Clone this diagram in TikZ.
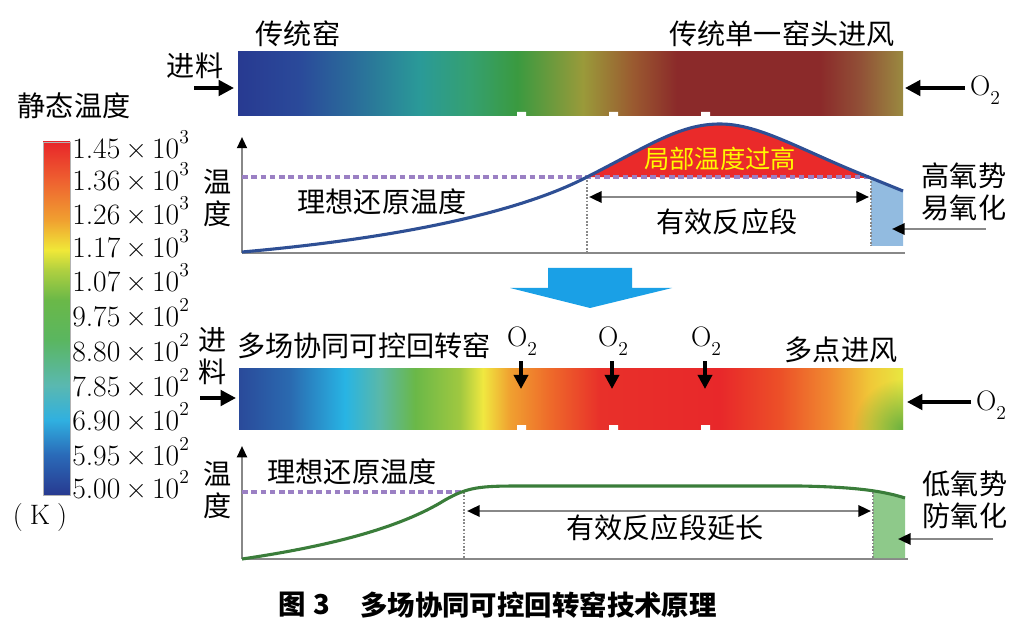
\documentclass[tikz,border=0pt]{standalone}
\usepackage{fontspec}
\usetikzlibrary{arrows.meta,fadings}
\newfontfamily\cjk{Noto Sans CJK SC}
\newcommand\fsz[1]{\fontsize{#1}{#1}\selectfont}
% top kiln colours
\definecolor{ta}{RGB}{40,58,145}
\definecolor{tb}{RGB}{42,74,154}
\definecolor{tc}{RGB}{42,106,154}
\definecolor{td}{RGB}{42,154,152}
\definecolor{te}{RGB}{53,160,112}
\definecolor{tf}{RGB}{58,154,64}
\definecolor{tg}{RGB}{154,154,58}
\definecolor{th}{RGB}{154,90,48}
\definecolor{ti}{RGB}{139,42,42}
\definecolor{tj}{RGB}{139,42,42}
\definecolor{tk}{RGB}{145,80,55}
\definecolor{tl}{RGB}{154,138,64}
% bottom kiln colours
\definecolor{ba}{RGB}{42,74,154}
\definecolor{bb}{RGB}{42,106,176}
\definecolor{bc}{RGB}{40,180,228}
\definecolor{bd}{RGB}{90,184,168}
\definecolor{be}{RGB}{106,184,72}
\definecolor{bf}{RGB}{160,200,64}
\definecolor{bg}{RGB}{240,232,64}
\definecolor{bh}{RGB}{240,160,48}
\definecolor{bi}{RGB}{238,106,42}
\definecolor{bj}{RGB}{232,48,42}
\definecolor{bk}{RGB}{232,40,42}
\definecolor{bl}{RGB}{236,80,40}
\definecolor{bm}{RGB}{240,138,48}
\definecolor{bn}{RGB}{240,200,56}
\definecolor{bo}{RGB}{232,232,64}
\definecolor{kgreen}{RGB}{106,176,64}
% colour bar
\definecolor{ca}{RGB}{40,58,144}
\definecolor{cb}{RGB}{42,106,184}
\definecolor{cc}{RGB}{48,176,224}
\definecolor{cd}{RGB}{90,184,176}
\definecolor{ce}{RGB}{90,182,96}
\definecolor{cf}{RGB}{106,184,72}
\definecolor{cg}{RGB}{176,208,64}
\definecolor{ch}{RGB}{240,232,56}
\definecolor{ci}{RGB}{240,160,48}
\definecolor{cj}{RGB}{238,96,48}
\definecolor{ck}{RGB}{232,38,42}
% others
\definecolor{idealpurple}{RGB}{155,128,196}
\definecolor{curveblue}{RGB}{46,79,148}
\definecolor{curvegreen}{RGB}{58,125,58}
\definecolor{hotred}{RGB}{234,42,42}
\definecolor{lblue}{RGB}{146,187,224}
\definecolor{lgreen}{RGB}{142,201,138}
\definecolor{bigblue}{RGB}{26,160,230}
\definecolor{axgray}{RGB}{136,136,136}
\definecolor{hotyellow}{RGB}{255,250,0}

\pgfdeclarehorizontalshading{topkiln}{100bp}{color(0bp)=(ta); color(25bp)=(ta); color(29.66bp)=(tb); color(33.42bp)=(tc); color(38.68bp)=(td); color(42.44bp)=(te); color(45.98bp)=(tf); color(50.94bp)=(tg); color(54.7bp)=(th); color(58bp)=(ti); color(68.76bp)=(tj); color(71.77bp)=(tk); color(75bp)=(tl); color(100bp)=(tl)}
\pgfdeclarehorizontalshading{botkiln}{100bp}{color(0bp)=(ba); color(25bp)=(ba); color(28.84bp)=(bb); color(32.98bp)=(bc); color(35.62bp)=(bd); color(38.25bp)=(be); color(41.64bp)=(bf); color(43.37bp)=(bg); color(45.41bp)=(bh); color(48.42bp)=(bi); color(52.18bp)=(bj); color(61.22bp)=(bk); color(65.74bp)=(bl); color(69.5bp)=(bm); color(72.52bp)=(bn); color(75bp)=(bo); color(100bp)=(bo)}
\pgfdeclareverticalshading{cbar}{100bp}{color(0bp)=(ca); color(25bp)=(ca); color(30.67bp)=(cb); color(35.62bp)=(cc); color(40.58bp)=(cd); color(46.96bp)=(ce); color(52.62bp)=(cf); color(56.87bp)=(cg); color(59.7bp)=(ch); color(63.95bp)=(ci); color(69.62bp)=(cj); color(75bp)=(ck); color(100bp)=(ck)}
\tikzfading[name=cornerfade, inner color=transparent!0, outer color=transparent!100]

\tikzset{
  lab/.style={font=\cjk\fsz{20pt}, inner sep=0pt},
  labtwo/.style={font=\cjk\fontsize{20pt}{23pt}\selectfont, inner sep=0pt, align=center},
  tick/.style={font=\fsz{21pt}, inner sep=0pt, anchor=west},
  oxy/.style={font=\fsz{20pt}, inner sep=0pt},
  bigarrow/.style={line width=2.6pt, -{Triangle[length=11pt,width=11pt]}},
  downarrow/.style={line width=2.4pt, -{Triangle[length=10pt,width=10pt]}},
  axisline/.style={draw=axgray, line width=1.6pt},
  axisarrow/.style={draw=axgray, line width=1.6pt, -{Triangle[color=black,length=8pt,width=7pt]}},
  ideal/.style={draw=idealpurple, line width=2.2pt, dash pattern=on 4pt off 2.6pt},
  vdot/.style={draw=axgray, line width=1.2pt, dash pattern=on 1.2pt off 1.2pt},
  dimline/.style={draw=axgray, line width=1.8pt, {Triangle[color=black,length=9pt,width=8pt]}-{Triangle[color=black,length=9pt,width=8pt]}},
  pointer/.style={draw=axgray, line width=1.8pt, -{Triangle[color=black,length=9pt,width=8pt]}},
}

\begin{document}
\begin{tikzpicture}[x=0.025cm,y=-0.025cm]
\useasboundingbox[fill=white] (0,0) rectangle (1032,636);

% ---------- colour bar ----------
\node[lab] (cbtitle) at (74,106) {静态温度};
\shadedraw[shading=cbar, draw=gray!60, line width=0.6pt] (43,142) rectangle (70,495);
\foreach \y/\m/\e [count=\i] in {145/1.45/3, 177/1.36/3, 211/1.26/3, 244/1.17/3, 278/1.07/3, 313/9.75/2, 348/8.80/2, 383/7.85/2, 417/6.90/2, 452/5.95/2, 485/5.00/2}
  \node[tick] (cbl\i) at (72,\y) {\m\hspace{0.18em}×\hspace{0.18em}10\raisebox{0.5em}{\fsz{14pt}\e}};
\node[font=\fsz{20pt}, inner sep=0pt] (unit) at (40,517) {(\hspace{0.25em}K\hspace{0.25em})};

% ---------- top kiln ----------
\shade[shading=topkiln] (238,52) rectangle (903,116);
\fill[white] (517,112) rectangle (526,118) (609,112) rectangle (618,118) (701,112) rectangle (710,118);
\node[lab] (trad) at (298,34) {传统窑};
\node[lab] (tradair) at (782,34) {传统单一窑头进风};
\node[lab] (feedT) at (195,66) {进料};
\coordinate (feedTa) at (194,88);
\coordinate (feedTb) at (234,88);
\draw[bigarrow] (feedTa) -- (feedTb);
\node[oxy] (oxT) at (985,90) {O\raisebox{-0.3em}{\fsz{14pt}2}};
\coordinate (oxTa) at (965,88);
\coordinate (oxTb) at (905,88);
\draw[bigarrow] (oxTa) -- (oxTb);

% ---------- top graph ----------
\coordinate (tO) at (242,253);
\coordinate (tTop) at (242,137);
\coordinate (tR) at (905,253);
\draw[axisline] (tO) -- (tR);
\draw[axisarrow] (tO) -- (tTop);
\fill[hotred] (587,177) .. controls (650,145) and (680,124) .. (720,124) .. controls (760,124) and (800,150) .. (871,178) -- cycle;
\fill[lblue] (871,178) -- (903,191) -- (903,246) -- (871,246) -- cycle;
\draw[ideal] (242,177) -- (871,177);
\draw[vdot] (587,177) -- (587,252);
\draw[vdot] (871,178) -- (871,246);
\draw[draw=curveblue, line width=2.2pt] (242,252) .. controls (400,238) and (520,212) .. (587,177) .. controls (650,145) and (680,124) .. (720,124) .. controls (760,124) and (800,150) .. (871,178) -- (903,191);
\node[font=\cjk\fsz{18pt}, text=hotyellow, inner sep=0pt] (hot) at (720,159) {局部温度过高};
\coordinate (effTL) at (589,197);
\coordinate (effTR) at (869,197);
\draw[dimline] (effTL) -- (effTR);
\node[lab] (effT) at (727,222) {有效反应段};
\node[lab] (idealT) at (382,202) {理想还原温度};
\node[labtwo] (tempT) at (218,198) {温\\度};
\node[labtwo] (highox) at (964,192) {高氧势\\易氧化};
\coordinate (ptrTa) at (986,229);
\coordinate (ptrTb) at (892,229);
\draw[pointer] (ptrTa) -- (ptrTb);

% ---------- big arrow ----------
\fill[bigblue] (548,268) -- (632,268) -- (632,288) -- (672,288) -- (590,308) -- (510,288) -- (548,288) -- cycle;

% ---------- bottom kiln ----------
\shade[shading=botkiln] (239,368) rectangle (903,429);
\begin{scope}
  \clip (239,368) rectangle (903,429);
  \fill[kgreen, path fading=cornerfade] (903,429) circle (50);
\end{scope}
\fill[white] (517,425) rectangle (526,430) (609,425) rectangle (618,430) (701,425) rectangle (710,430);
\node[lab] (multi) at (364,346) {多场协同可控回转窑};
\node[lab] (multiair) at (841,350) {多点进风};
\node[labtwo] (feedB) at (213,356) {进\\料};
\coordinate (feedBa) at (200,398);
\coordinate (feedBb) at (236,398);
\draw[bigarrow] (feedBa) -- (feedBb);
\foreach \x [count=\i] in {522,613,706} {
  \node[oxy] (oxM\i) at (\x,341) {O\raisebox{-0.3em}{\fsz{14pt}2}};
  \coordinate (oxMa\i) at (\x-1,361);
  \coordinate (oxMb\i) at (\x-1,389);
  \draw[downarrow] (oxMa\i) -- (oxMb\i);
}
\node[oxy] (oxB) at (991,405) {O\raisebox{-0.3em}{\fsz{14pt}2}};
\coordinate (oxBa) at (971,402);
\coordinate (oxBb) at (907,402);
\draw[bigarrow] (oxBa) -- (oxBb);

% ---------- bottom graph ----------
\coordinate (bO) at (242,559);
\coordinate (bTop) at (242,446);
\coordinate (bR) at (908,559);
\draw[axisline] (bO) -- (bR);
\draw[axisarrow] (bO) -- (bTop);
\fill[lgreen] (873,492) -- (888,494) -- (905,498) -- (905,558) -- (873,558) -- cycle;
\draw[ideal] (242,492) -- (462,492);
\draw[vdot] (464,492) -- (464,558);
\draw[vdot] (873,492) -- (873,558);
\draw[draw=curvegreen, line width=2.2pt] (242,559) .. controls (330,546) and (400,528) .. (445,500) .. controls (468,487) and (480,486) .. (520,486) -- (800,486) .. controls (850,487) and (880,490) .. (905,498);
\coordinate (effBL) at (467,511);
\coordinate (effBR) at (871,511);
\draw[dimline] (effBL) -- (effBR);
\node[lab] (effB) at (665,528) {有效反应段延长};
\node[lab] (idealB) at (352,472) {理想还原温度};
\node[labtwo] (tempB) at (218,490) {温\\度};
\node[labtwo] (lowox) at (965,500) {低氧势\\防氧化};
\coordinate (ptrBa) at (993,539);
\coordinate (ptrBb) at (898,539);
\draw[pointer] (ptrBa) -- (ptrBb);

% ---------- caption ----------
\node[font=\cjk\bfseries\fsz{19.5pt}, inner sep=0pt, anchor=west] (capnum) at (278,605) {图\hspace{0.3em}3};
\node[font=\cjk\bfseries\fsz{19.5pt}, inner sep=0pt, anchor=west] (captext) at (360,605) {多场协同可控回转窑技术原理};
\end{tikzpicture}
\end{document}
